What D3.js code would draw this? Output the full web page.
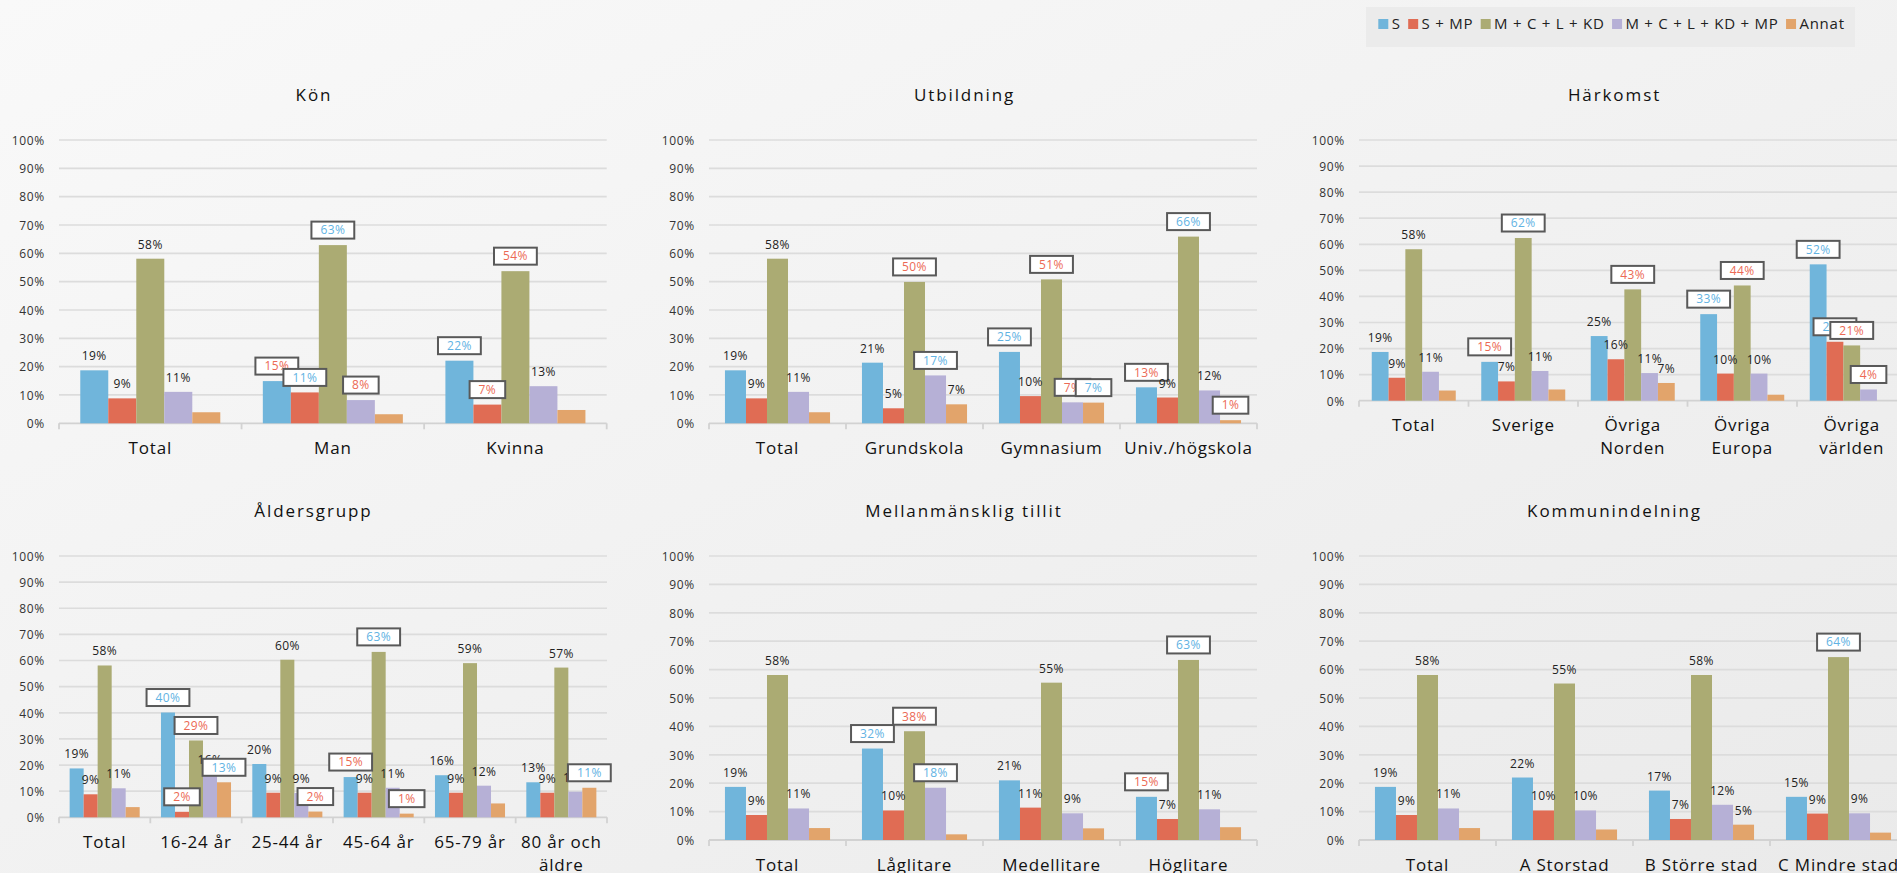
<!DOCTYPE html>
<html><head><meta charset="utf-8">
<script src="https://cdn.jsdelivr.net/npm/d3@7"></script>
<style>html,body{margin:0;padding:0;overflow:hidden;background:#f2f2f2;} svg{display:block;}</style>
</head><body>
<svg id="chart" width="1897" height="873"></svg>
<script>
// ---------- DATA ----------
const seriesNames = ["S", "S + MP", "M + C + L + KD", "M + C + L + KD + MP", "Annat"];
const yTickValues = [0, 10, 20, 30, 40, 50, 60, 70, 80, 90, 100];

// label marks: "n" = plain label, "b" = boxed blue, "r" = boxed red, "" = no label
const konCategories = ["Total", "Man", "Kvinna"];
const konValues = [[18.7, 8.8, 58.1, 11.1, 3.9], [14.9, 10.9, 62.9, 8.2, 3.2], [22.1, 6.6, 53.7, 13.1, 4.7]];
const konMarks = [["n","n","n","n",""], ["r","b","b","r",""], ["b","r","r","n",""]];

const utbCategories = ["Total", "Grundskola", "Gymnasium", "Univ./högskola"];
const utbValues = [[18.7, 8.8, 58.1, 11.1, 3.9], [21.4, 5.3, 49.9, 16.9, 6.7], [25.2, 9.6, 50.8, 7.4, 7.3], [12.7, 9.1, 65.9, 11.6, 1.1]];
const utbMarks = [["n","n","n","n",""], ["n","n","r","b","n"], ["b","n","r","r","b"], ["r","n","b","n","r"]];

const harCategories = ["Total", "Sverige", "Övriga\nNorden", "Övriga\nEuropa", "Övriga\nvärlden"];
const harValues = [[18.7, 8.8, 58.1, 11.1, 3.9], [14.9, 7.4, 62.4, 11.4, 4.3], [24.8, 15.9, 42.7, 10.6, 6.8], [33.2, 10.4, 44.2, 10.4, 2.3], [52.3, 22.6, 21.2, 4.3, 0]];
const harMarks = [["n","n","n","n",""], ["r","n","b","n",""], ["n","n","r","n","n"], ["b","n","r","n",""], ["b","b","r","r",""]];

const aldCategories = ["Total", "16-24 år", "25-44 år", "45-64 år", "65-79 år", "80 år och\näldre"];
const aldValues = [[18.7, 8.8, 58.1, 11.1, 3.9], [40.1, 2.1, 29.4, 16.4, 13.4], [20.4, 9.4, 60.3, 9.3, 2.2], [15.4, 9.4, 63.3, 11.3, 1.4], [16.1, 9.4, 59.0, 12.1, 5.3], [13.4, 9.4, 57.3, 9.8, 11.3]];
const aldMarks = [["n","n","n","n",""], ["b","r","r","n","b"], ["n","n","n","n","r"], ["r","n","b","n","r"], ["n","n","n","n",""], ["n","n","n","n","b"]];

const melCategories = ["Total", "Låglitare", "Medellitare", "Höglitare"];
const melValues = [[18.7, 8.8, 58.1, 11.1, 4.2], [32.2, 10.4, 38.3, 18.4, 2.0], [21.0, 11.4, 55.4, 9.4, 4.1], [15.2, 7.4, 63.4, 10.8, 4.5]];
const melMarks = [["n","n","n","n",""], ["b","n","r","b",""], ["n","n","n","n",""], ["r","n","b","n",""]];

const komCategories = ["Total", "A Storstad", "B Större stad", "C Mindre stad"];
const komValues = [[18.7, 8.8, 58.1, 11.1, 4.2], [22.0, 10.4, 55.1, 10.4, 3.7], [17.4, 7.4, 58.1, 12.4, 5.4], [15.2, 9.3, 64.4, 9.4, 2.6]];
const komMarks = [["n","n","n","n",""], ["n","n","n","n",""], ["n","n","n","n","n"], ["n","n","b","n",""]];

// ---------- DRAWING ----------
const W = 1897, H = 873;
const FONT = "'Open Sans', sans-serif";
const svg = d3.select("#chart");
const defs = svg.append("defs");
const grad = defs.append("linearGradient").attr("id", "bg")
  .attr("x1", "0").attr("y1", "0").attr("x2", "1").attr("y2", "1");
grad.append("stop").attr("offset", "0").attr("stop-color", "#f9f9f9");
grad.append("stop").attr("offset", "1").attr("stop-color", "#eaeaea");
svg.append("rect").attr("width", W).attr("height", H).attr("fill", "url(#bg)");

const color = d3.scaleOrdinal().domain(d3.range(seriesNames.length))
  .range(["#70b5db", "#e06c54", "#abab73", "#b6b0d6", "#e2a46b"]);
const boxTextColor = { b: "#62b3e3", r: "#ec6a55" };

const panels = [
  { title: "Kön", cats: konCategories, vals: konValues, marks: konMarks, x0: 59, x1: 606.7, yTop: 140, yBot: 423.3, tx: 314, ty: 101 },
  { title: "Utbildning", cats: utbCategories, vals: utbValues, marks: utbMarks, x0: 709, x1: 1257, yTop: 140, yBot: 423.3, tx: 964.5, ty: 101 },
  { title: "Härkomst", cats: harCategories, vals: harValues, marks: harMarks, x0: 1359, x1: 1906.5, yTop: 140, yBot: 400.7, tx: 1614.5, ty: 101 },
  { title: "Åldersgrupp", cats: aldCategories, vals: aldValues, marks: aldMarks, x0: 59, x1: 607, yTop: 556, yBot: 817.3, tx: 313.5, ty: 517 },
  { title: "Mellanmänsklig tillit", cats: melCategories, vals: melValues, marks: melMarks, x0: 709, x1: 1257, yTop: 556, yBot: 840, tx: 964, ty: 517 },
  { title: "Kommunindelning", cats: komCategories, vals: komValues, marks: komMarks, x0: 1359, x1: 1907, yTop: 556, yBot: 840, tx: 1614.5, ty: 517 }
];

panels.forEach(drawPanel);

function drawPanel(p) {
  const g = svg.append("g");
  const y = d3.scaleLinear().domain([0, 100]).range([p.yBot, p.yTop]);
  const x = d3.scaleBand().domain(d3.range(p.cats.length)).range([p.x0, p.x1]).padding(0);
  const bw = x.bandwidth();
  const xs = d3.scaleBand().domain(d3.range(seriesNames.length)).range([bw * 0.1165, bw * 0.8835]).padding(0);

  // title
  g.append("text").attr("x", p.tx).attr("y", p.ty).attr("text-anchor", "middle")
    .attr("font-family", FONT).attr("font-size", 17).attr("letter-spacing", 1.9)
    .attr("fill", "#111").text(p.title);

  // gridlines
  g.append("g").selectAll("line").data(yTickValues.filter(v => v > 0)).join("line")
    .attr("x1", p.x0).attr("x2", p.x1).attr("y1", d => y(d)).attr("y2", d => y(d))
    .attr("stroke", "#dcdcdc").attr("stroke-width", 1.7);

  // y axis labels
  const ya = g.append("g").attr("transform", `translate(${p.x0},0)`)
    .call(d3.axisLeft(y).tickValues(yTickValues).tickSize(0).tickPadding(14).tickFormat(d => d + "%"));
  ya.select(".domain").remove();
  ya.selectAll("text").attr("font-family", FONT).attr("font-size", 12).attr("letter-spacing", 0.7)
    .attr("fill", "#333").attr("dy", "0.36em");

  // x axis baseline + boundary ticks
  g.append("line").attr("x1", p.x0).attr("x2", p.x1).attr("y1", p.yBot).attr("y2", p.yBot)
    .attr("stroke", "#d2d2d2").attr("stroke-width", 1.8);
  const bounds = d3.range(p.cats.length).map(i => x(i)).concat([p.x1]);
  g.append("g").selectAll("line").data(bounds).join("line")
    .attr("x1", d => d).attr("x2", d => d).attr("y1", p.yBot).attr("y2", p.yBot + 6)
    .attr("stroke", "#d2d2d2").attr("stroke-width", 1.8);

  // category labels
  const xa = g.append("g").attr("transform", `translate(0,${p.yBot})`)
    .call(d3.axisBottom(x).tickSize(0).tickPadding(0).tickFormat(i => p.cats[i]));
  xa.select(".domain").remove();
  xa.selectAll("text").each(function (i) {
    const t = d3.select(this);
    const lines = p.cats[i].split("\n");
    t.text(null).attr("y", 0).attr("dy", null)
      .attr("font-family", FONT).attr("font-size", 17).attr("letter-spacing", 0.8).attr("fill", "#111");
    lines.forEach((ln, k) => {
      t.append("tspan").attr("x", 0).attr("y", 30.5 + k * 23.3).text(ln);
    });
  });

  // bars
  const cells = [];
  p.vals.forEach((row, i) => row.forEach((v, j) => cells.push({ i, j, v, m: p.marks[i][j] })));
  g.append("g").selectAll("rect").data(cells.filter(d => d.v > 0)).join("rect")
    .attr("x", d => x(d.i) + xs(d.j)).attr("width", xs.bandwidth())
    .attr("y", d => y(d.v)).attr("height", d => p.yBot - y(d.v))
    .attr("fill", d => color(d.j));

  // data labels, drawn series by series
  const lg = g.append("g");
  d3.range(seriesNames.length).forEach(j => {
    cells.filter(d => d.j === j && d.m !== "").forEach(d => {
      const cx = x(d.i) + xs(d.j) + xs.bandwidth() / 2;
      const top = y(d.v);
      const label = Math.round(d.v) + "%";
      if (d.m === "n") {
        lg.append("text").attr("x", cx).attr("y", top - 10).attr("text-anchor", "middle")
          .attr("font-family", FONT).attr("font-size", 12).attr("letter-spacing", 0.4)
          .attr("fill", "#222").text(label);
      } else {
        const bg = lg.append("g");
        const r = bg.append("rect");
        const t = bg.append("text").attr("x", cx).attr("y", top - 15 + 4.3).attr("text-anchor", "middle")
          .attr("font-family", FONT).attr("font-size", 12).attr("letter-spacing", 0.4)
          .attr("fill", boxTextColor[d.m]).text(label);
        const w = t.node().getComputedTextLength() + 18;
        r.attr("x", cx - w / 2).attr("y", top - 15 - 8.5).attr("width", w).attr("height", 17)
          .attr("fill", "#ffffff").attr("stroke", "#595959").attr("stroke-width", 2);
      }
    });
  });
}

// legend
const leg = svg.append("g");
leg.append("rect").attr("x", 1366).attr("y", 7).attr("width", 489).attr("height", 40).attr("fill", "#ebebeb");
let lx = 1378.3;
seriesNames.forEach((name, j) => {
  leg.append("rect").attr("x", lx).attr("y", 19).attr("width", 10).attr("height", 10).attr("fill", color(j));
  const t = leg.append("text").attr("x", lx + 13.4).attr("y", 29.3)
    .attr("font-family", FONT).attr("font-size", 15).attr("letter-spacing", 0.75)
    .attr("fill", "#222").text(name);
  lx += 13.4 + t.node().getComputedTextLength() + 7.5;
});
</script>
</body></html>
